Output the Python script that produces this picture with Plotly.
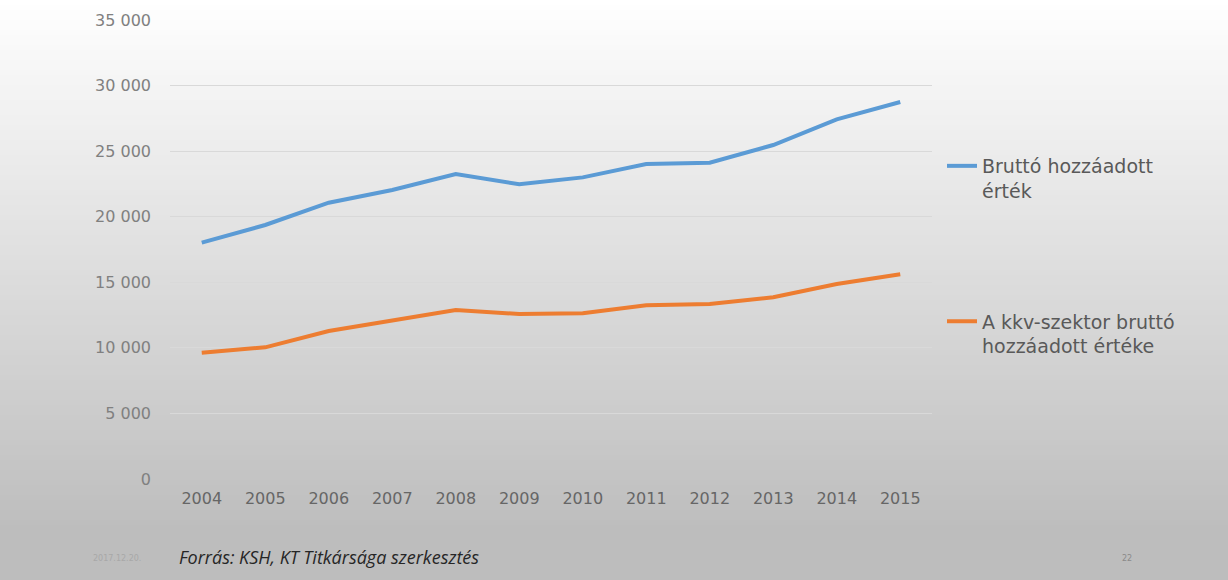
import plotly.graph_objects as go

years = ["2004", "2005", "2006", "2007", "2008", "2009", "2010", "2011", "2012", "2013", "2014", "2015"]
brutto = [18020, 19370, 21070, 22040, 23260, 22470, 23000, 24020, 24120, 25470, 27430, 28750]
kkv = [9630, 10040, 11290, 12120, 12890, 12580, 12640, 13250, 13340, 13860, 14870, 15610]
name_brutto = "Bruttó hozzáadott<br>érték"
name_kkv = "A kkv-szektor bruttó<br>hozzáadott értéke"
y_ticks = [0, 5000, 10000, 15000, 20000, 25000, 30000, 35000]

W, H = 1228, 580
L, R, T, B = 170, 296, 20, 101
PW = W - L - R
PH = H - T - B

def px_x(px):
    return (px - L) / PW

def px_y(py):
    return (H - B - py) / PH

fig = go.Figure()
fig.add_trace(go.Scatter(x=years, y=brutto, mode="lines", name=name_brutto,
                         line=dict(color="#5b9bd5", width=4), legendgroup="a"))
fig.add_trace(go.Scatter(x=years, y=kkv, mode="lines", name=name_kkv,
                         line=dict(color="#ed7d31", width=4), legendgroup="b"))

# vertical gradient background
shapes = []
step = 5
for py in range(0, H, step):
    mid = py + step / 2
    g = 255 - 66 * min(mid, 530) / 530
    g = int(round(g))
    col = f"rgb({g},{g},{g})"
    shapes.append(dict(type="rect", xref="paper", yref="paper",
                       x0=px_x(0), x1=px_x(W), y0=px_y(py + step), y1=px_y(py),
                       fillcolor=col, line=dict(width=0), layer="below"))

fig.update_layout(
    width=W, height=H,
    margin=dict(l=L, r=R, t=T, b=B),
    paper_bgcolor="rgba(0,0,0,0)",
    plot_bgcolor="rgba(0,0,0,0)",
    separators=", ",
    font=dict(family="DejaVu Sans", color="#7f7f7f", size=16),
    shapes=shapes,
    showlegend=True,
    legend=dict(x=px_x(942), xanchor="left", y=px_y(147), yanchor="top",
                valign="top", tracegroupgap=103,
                font=dict(size=19, color="#595959", family="DejaVu Sans"),
                bgcolor="rgba(0,0,0,0)"),
    xaxis=dict(type="category", range=[-0.5, len(years) - 0.5],
               showgrid=False, showline=False, zeroline=False,
               ticks="", ticklabelstandoff=8,
               tickfont=dict(size=16, color="#666666")),
    yaxis=dict(range=[0, 35000], tickvals=y_ticks, tickformat=",d",
               showgrid=True, gridcolor="#d9d9d9", gridwidth=1, zeroline=False,
               showline=False, ticks="", ticklabelstandoff=18,
               tickfont=dict(size=16, color="#808080")),
    annotations=[
        dict(text="2017.12.20.", xref="paper", yref="paper", x=px_x(117), y=px_y(558),
             xanchor="center", yanchor="middle", showarrow=False,
             font=dict(size=8, color="#a8a8a8")),
        dict(text="<i>Forrás: KSH, KT Titkársága szerkesztés</i>", xref="paper", yref="paper",
             x=px_x(177), y=px_y(557), xanchor="left", yanchor="middle", showarrow=False,
             font=dict(size=18, color="#262626", family="Open Sans")),
        dict(text="22", xref="paper", yref="paper", x=px_x(1127), y=px_y(558),
             xanchor="center", yanchor="middle", showarrow=False,
             font=dict(size=8, color="#8a8a8a")),
    ],
)

fig.write_html("out.html", config={"displayModeBar": False},
               post_script="document.body.style.margin='0';document.body.style.overflow='hidden';")
